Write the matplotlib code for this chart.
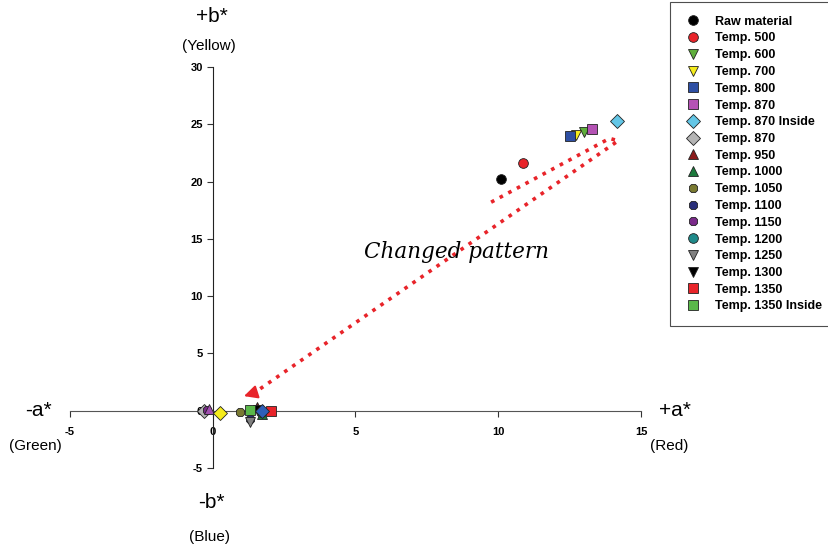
import matplotlib
matplotlib.use("Agg")
import matplotlib.pyplot as plt

plt.rcParams['font.family'] = ['Liberation Sans', 'DejaVu Sans']
plt.rcParams['axes.unicode_minus'] = False

# legend entries, one point each (a*, b*)
labels = ['Raw material', 'Temp. 500', 'Temp. 600', 'Temp. 700', 'Temp. 800',
          'Temp. 870', 'Temp. 870 Inside', 'Temp. 870', 'Temp. 950', 'Temp. 1000',
          'Temp. 1050', 'Temp. 1100', 'Temp. 1150', 'Temp. 1200', 'Temp. 1250',
          'Temp. 1300', 'Temp. 1350', 'Temp. 1350 Inside']
a_vals = [10.1, 10.85, 13.0, 12.72, 12.5, 13.3, 14.15, -0.3, 1.55, 1.72,
          0.95, 1.3, -0.2, 1.7, 1.3, 1.6, 2.05, 1.3]
b_vals = [20.2, 21.6, 24.35, 24.1, 24.0, 24.55, 25.25, -0.05, 0.3, -0.3,
          -0.1, -0.7, 0.05, -0.15, -0.95, 0.1, 0.0, 0.1]
markers = ['o', 'o', 'v', 'v', 's', 's', 'D', 'D', '^', '^',
           '8', '8', '8', 'o', 'v', 'v', 's', 's']
colors = ['#000000', '#e8242a', '#5fae3c', '#f5ec1c', '#2e4fa3', '#b452b4',
          '#63c6e6', '#b4b4b4', '#8b1a1a', '#1c7a3c', '#7a7a32', '#2a2f7a',
          '#7a2a8a', '#1f8a8a', '#808080', '#000000', '#e8242a', '#5ab84a']

# points near the origin that have no legend entry
extra_a = [-0.12, 0.25, 1.72]
extra_b = [0.15, -0.2, -0.02]
extra_markers = ['^', 'D', 'D']
extra_colors = ['#a050b0', '#f5ec1c', '#2e5fb8']

fig = plt.figure(figsize=(8.29, 5.47), dpi=100)
ax = fig.add_axes([70 / 829, 79 / 547, 571 / 829, 401 / 547])

red = '#e8242a'
# dotted "changed pattern" trail
trail_x = [9.75, 13.9, 14.2, 1.45]
trail_y = [18.2, 23.77, 23.56, 1.55]
ax.plot(trail_x, trail_y, color=red, lw=2.6, ls=(0, (1, 1.7)), zorder=2)
ax.annotate('', xy=(1.0, 1.2), xytext=(1.6, 1.68),
            arrowprops=dict(arrowstyle='-|>', color=red, lw=1.5, mutation_scale=20),
            zorder=2)
ax.text(8.55, 13.85, 'Changed pattern', fontsize=15.5, style='italic',
        family='DejaVu Serif', ha='center', va='center')

for i in range(len(labels)):
    ax.plot(a_vals[i], b_vals[i], ls='none', marker=markers[i], ms=7,
            mfc=colors[i], mec='#222222', mew=0.6, label=labels[i], zorder=4)
for i in range(len(extra_a)):
    ax.plot(extra_a[i], extra_b[i], ls='none', marker=extra_markers[i], ms=7,
            mfc=extra_colors[i], mec='#222222', mew=0.6, zorder=4)

ax.set_xlim(-5, 15)
ax.set_ylim(-5, 30)
ax.spines['left'].set_position(('data', 0))
ax.spines['bottom'].set_position(('data', 0))
ax.spines['top'].set_visible(False)
ax.spines['right'].set_visible(False)
ax.spines['left'].set_color('#222222')
ax.spines['bottom'].set_color('#555555')
ax.set_xticks([-5, 0, 5, 10, 15])
ax.set_yticks([-5, 0, 5, 10, 15, 20, 25, 30])
ax.tick_params(axis='x', length=4, pad=8, labelsize=8, colors='#333333', labelcolor='black')
ax.tick_params(axis='y', length=4, pad=3, labelsize=8, colors='#333333', labelcolor='black')
for t in ax.get_xticklabels() + ax.get_yticklabels():
    t.set_fontweight('bold')
ax.patch.set_visible(False)

def ftext(x, y, s, size):
    fig.text(x / 829, 1 - y / 547, s, fontsize=size, ha='center', va='center')

ftext(212, 16, '+b*', 15)
ftext(209, 46, '(Yellow)', 11)
ftext(211, 503, '-b*', 15)
ftext(210, 537, '(Blue)', 11)
ftext(38, 411, '-a*', 15)
ftext(35, 446, '(Green)', 11)
ftext(675, 411, '+a*', 15)
ftext(669, 446, '(Red)', 11)

leg = fig.legend(loc='upper left', bbox_to_anchor=(670 / 829, 1 - 2 / 547),
                 frameon=True, fancybox=False, prop={'weight': 'bold', 'size': 9},
                 labelspacing=0.38, handletextpad=1.0, borderpad=1.1,
                 handlelength=1.5, borderaxespad=0)
leg.get_frame().set_edgecolor('#222222')
leg.get_frame().set_linewidth(0.8)

fig.savefig('out.png', dpi=100)
